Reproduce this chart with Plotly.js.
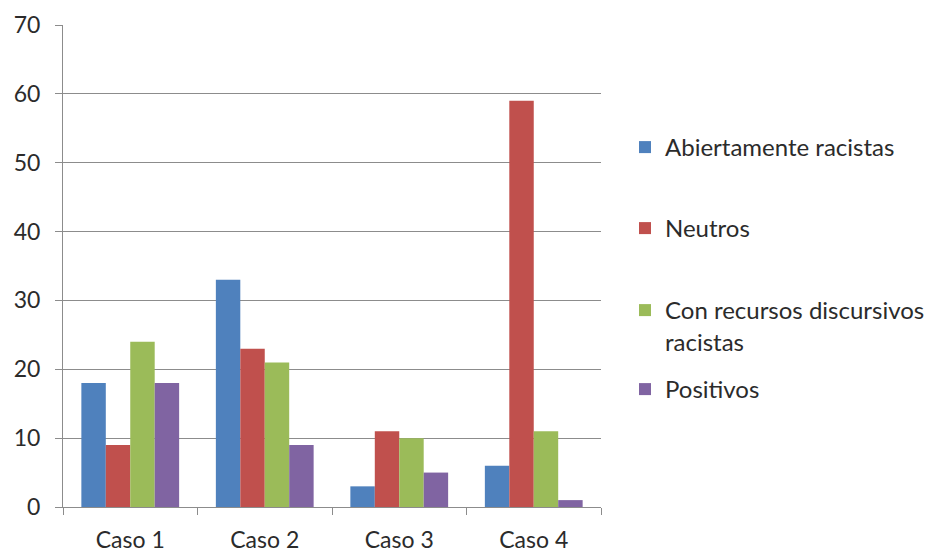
<!DOCTYPE html>
<html>
<head>
<meta charset="utf-8">
<script src="https://cdn.plot.ly/plotly-3.0.1.min.js"></script>
<style>
  html, body { margin: 0; padding: 0; background: #ffffff; }
  #chart { width: 928px; height: 552px; }
</style>
</head>
<body>
<div id="chart"></div>
<script>
// Categories (cases) and the four series of comment counts
const casos = ["Caso 1", "Caso 2", "Caso 3", "Caso 4"];
const abiertamenteRacistas = [18, 33, 3, 6];
const neutros = [9, 23, 11, 59];
const conRecursos = [24, 21, 10, 11];
const positivos = [18, 9, 5, 1];

const seriesNames = [
  "Abiertamente racistas",
  "Neutros",
  "Con recursos discursivos<br>racistas",
  "Positivos"
];
const seriesValues = [abiertamenteRacistas, neutros, conRecursos, positivos];
const seriesColors = ["#4F81BD", "#C0504D", "#9BBB59", "#8064A2"];
const legendIds = ["legend", "legend2", "legend3", "legend4"];
// vertical position (px from top) of each legend entry
const legendTops = [125, 206, 288, 367];

const FONT = "Lato, 'Liberation Sans', sans-serif";
const TEXT_COLOR = "#2b2b2b";
const GRID = "#8c8c8c";

const traces = seriesNames.map((name, i) => ({
  type: "bar",
  name: name,
  x: casos,
  y: seriesValues[i],
  marker: { color: seriesColors[i], line: { width: 0 } },
  legend: legendIds[i],
  hoverinfo: "x+y+name"
}));

const W = 928, H = 552;
const layout = {
  width: W,
  height: H,
  margin: { l: 63, r: 327, t: 25, b: 45 },
  paper_bgcolor: "#ffffff",
  plot_bgcolor: "#ffffff",
  font: { family: FONT, size: 24, color: TEXT_COLOR },
  barmode: "group",
  bargap: 0.273,
  bargroupgap: 0,
  showlegend: true,
  xaxis: {
    type: "category",
    showline: true,
    linecolor: GRID,
    linewidth: 1,
    ticks: "outside",
    tickson: "boundaries",
    ticklen: 7,
    tickcolor: GRID,
    showgrid: false,
    zeroline: false,
    ticklabelstandoff: 12,
    tickfont: { family: FONT, size: 23, color: TEXT_COLOR },
    fixedrange: true
  },
  yaxis: {
    range: [0, 70],
    dtick: 10,
    tick0: 0,
    showline: true,
    linecolor: GRID,
    linewidth: 1,
    ticks: "outside",
    ticklen: 7,
    tickcolor: GRID,
    showgrid: true,
    gridcolor: GRID,
    gridwidth: 1,
    zeroline: false,
    ticklabelstandoff: 10,
    tickfont: { family: FONT, size: 23, color: TEXT_COLOR },
    fixedrange: true
  }
};

legendIds.forEach((id, i) => {
  layout[id] = {
    xref: "container",
    yref: "container",
    x: 625 / W,
    y: 1 - legendTops[i] / H,
    xanchor: "left",
    yanchor: "top",
    valign: "top",
    bgcolor: "rgba(0,0,0,0)",
    borderwidth: 0,
    font: { family: FONT, size: 24, color: TEXT_COLOR }
  };
});

Plotly.newPlot("chart", traces, layout, { displayModeBar: false, staticPlot: true });
</script>
</body>
</html>
